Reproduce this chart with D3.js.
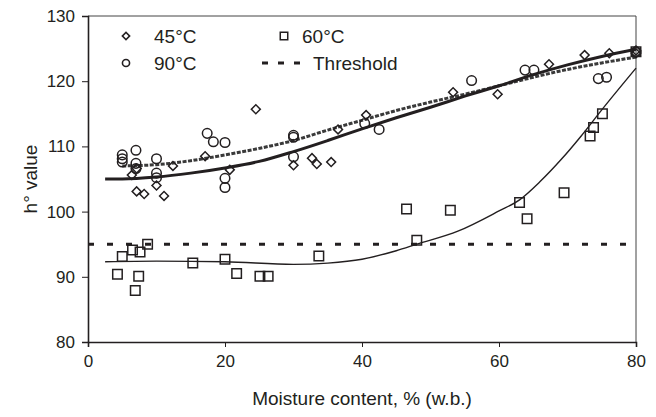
<!DOCTYPE html>
<html><head><meta charset="utf-8">
<script src="https://cdn.jsdelivr.net/npm/d3@7"></script>
<style>body{margin:0;background:#fff}svg{display:block}text{font-family:Arial,"Liberation Sans",sans-serif;fill:#231f20}</style>
</head><body><svg id="c" width="656" height="417"></svg>
<script>
// ---- data ----
const xTicks = [0, 20, 40, 60, 80];
const yTicks = [80, 90, 100, 110, 120, 130];
const threshold = 95;
const legendLabels = ["45°C", "60°C", "90°C", "Threshold"];

const points45 = [[6.4,105.6],[7.1,106.6],[7.1,103.1],[8.2,102.7],[10.0,104.0],[11.1,102.4],[12.4,107.0],[17.1,108.5],[20.7,106.4],[24.5,115.7],[30.0,107.1],[32.7,108.2],[33.4,107.3],[35.5,107.6],[36.5,112.6],[40.6,114.8],[53.3,118.3],[59.8,118.0],[67.3,122.6],[72.5,124.0],[76.1,124.3],[80,124.7],[80,124.3]];
const points90 = [[5.0,108.7],[5.0,108.1],[5.0,107.6],[7.0,109.4],[7.0,107.4],[7.0,106.6],[10.0,108.1],[10.0,105.9],[10.0,105.2],[17.4,112.0],[18.3,110.7],[20.0,110.6],[20.0,105.1],[20.0,103.7],[30.0,111.7],[30.0,111.4],[30.0,108.4],[40.4,113.5],[42.5,112.6],[56.0,120.1],[63.8,121.7],[65.1,121.7],[74.5,120.4],[75.7,120.6],[80,124.5]];
const points60 = [[4.3,90.4],[5.0,93.1],[6.5,94.1],[7.6,93.8],[8.7,95.0],[6.9,87.9],[7.4,90.1],[15.3,92.1],[20.0,92.7],[21.7,90.5],[25.1,90.1],[26.3,90.1],[33.7,93.2],[46.5,100.4],[48.0,95.6],[52.9,100.2],[63.0,101.4],[64.1,98.9],[69.5,102.9],[73.3,111.6],[73.8,112.9],[75.1,115.0],[80,124.5]];

// fitted trend lines
const fit45 = [[2.5,105.0],[5,105.0],[10,105.3],[15,105.9],[20,106.7],[25,107.7],[30,109.2],[35,110.9],[40,112.7],[45,114.4],[50,116.0],[55,117.7],[60,119.3],[65,121.0],[70,122.5],[75,123.8],[80,124.9]];
const fit90 = [[5,107.0],[10,107.2],[15,107.8],[20,108.7],[25,109.7],[30,110.9],[35,112.5],[40,114.0],[45,115.5],[50,116.8],[55,118.0],[60,119.3],[65,120.6],[70,121.8],[75,122.8],[80,123.7]];
const fit60 = [[2.5,92.3],[10,92.4],[20,92.3],[30,91.9],[35,92.1],[40,92.7],[45,94.0],[48,95.0],[54,97.0],[60,100.1],[63,101.8],[66,104.6],[69,107.9],[72,111.6],[75,115.6],[80,122.0]];

// ---- layout ----
const svg = d3.select("#c");
const L = 88, R = 636, T = 16, B = 342;
const x = d3.scaleLinear().domain([0, 80]).range([L, R]);
const y = d3.scaleLinear().domain([80, 130]).range([B, T]);
const ink = "#231f20";

// frame (top / right)
svg.append("line").attr("x1", L).attr("x2", R).attr("y1", T).attr("y2", T).attr("stroke", "#444").attr("stroke-width", 1);
svg.append("line").attr("x1", R).attr("x2", R).attr("y1", T).attr("y2", B).attr("stroke", "#444").attr("stroke-width", 1);

// axes
const xAxis = svg.append("g").attr("transform", `translate(0,${B})`)
  .call(d3.axisBottom(x).tickValues(xTicks).tickSize(5).tickPadding(8).tickFormat(d3.format("d")));
const yAxis = svg.append("g").attr("transform", `translate(${L},0)`)
  .call(d3.axisLeft(y).tickValues(yTicks).tickSize(6).tickPadding(7).tickFormat(d3.format("d")));
[xAxis, yAxis].forEach(g => {
  g.select(".domain").attr("stroke", ink).attr("stroke-width", 1.6);
  g.selectAll(".tick line").attr("stroke", ink).attr("stroke-width", 1);
  g.selectAll("text").attr("font-size", 17).attr("fill", ink).style("font-family", "Arial, 'Liberation Sans', sans-serif");
});

// axis titles
svg.append("text").attr("x", (L + R) / 2).attr("y", 405).attr("text-anchor", "middle")
  .attr("font-size", 19).text("Moisture content, % (w.b.)");
svg.append("text").attr("transform", `translate(37,${(T + B) / 2}) rotate(-90)`).attr("text-anchor", "middle")
  .attr("font-size", 19).text("h° value");

// threshold
svg.append("line").attr("x1", L).attr("x2", R).attr("y1", y(threshold)).attr("y2", y(threshold))
  .attr("stroke", ink).attr("stroke-width", 3).attr("stroke-dasharray", "6,13");

// trend lines
const line = d3.line().x(d => x(d[0])).y(d => y(d[1])).curve(d3.curveMonotoneX);
svg.append("path").datum(fit60).attr("d", line).attr("fill", "none").attr("stroke", ink).attr("stroke-width", 1.4);
svg.append("path").datum(fit90).attr("d", line).attr("fill", "none").attr("stroke", "#3a3a3a").attr("stroke-width", 3).attr("stroke-dasharray", "4,1.5");
svg.append("path").datum(fit45).attr("d", line).attr("fill", "none").attr("stroke", ink).attr("stroke-width", 3);

// markers
const sym = (type, size) => d3.symbol().type(type).size(size);
function drawPts(data, type, size, rot) {
  svg.append("g").selectAll("path").data(data).join("path")
    .attr("d", sym(type, size))
    .attr("transform", d => `translate(${x(d[0])},${y(d[1])})${rot ? " rotate(45)" : ""}`)
    .attr("fill", "none").attr("stroke", ink).attr("stroke-width", 1.5);
}
drawPts(points45, d3.symbolSquare, 40, true);
drawPts(points90, d3.symbolCircle, 72, false);
drawPts(points60, d3.symbolSquare, 90, false);

// legend
const lg = svg.append("g");
const leg = [
  {t: legendLabels[0], mx: 126, my: 36, tx: 154, type: "diamond"},
  {t: legendLabels[1], mx: 284, my: 36, tx: 302, type: "square"},
  {t: legendLabels[2], mx: 126, my: 63, tx: 154, type: "circle"},
  {t: legendLabels[3], mx: 280, my: 63, tx: 313, type: "dash"}
];
leg.forEach(d => {
  if (d.type === "diamond") lg.append("path").attr("d", sym(d3.symbolSquare, 26)()).attr("transform", `translate(${d.mx},${d.my}) rotate(45)`).attr("fill", "none").attr("stroke", ink).attr("stroke-width", 1.6);
  if (d.type === "square") lg.append("path").attr("d", sym(d3.symbolSquare, 56)()).attr("transform", `translate(${d.mx},${d.my})`).attr("fill", "none").attr("stroke", ink).attr("stroke-width", 1.5);
  if (d.type === "circle") lg.append("path").attr("d", sym(d3.symbolCircle, 40)()).attr("transform", `translate(${d.mx},${d.my})`).attr("fill", "none").attr("stroke", ink).attr("stroke-width", 1.6);
  if (d.type === "dash") lg.append("line").attr("x1", 262).attr("x2", 300).attr("y1", d.my).attr("y2", d.my).attr("stroke", ink).attr("stroke-width", 3).attr("stroke-dasharray", "6,10");
  lg.append("text").attr("x", d.tx).attr("y", d.my + 7).attr("font-size", 19).text(d.t);
});
</script></body></html>
